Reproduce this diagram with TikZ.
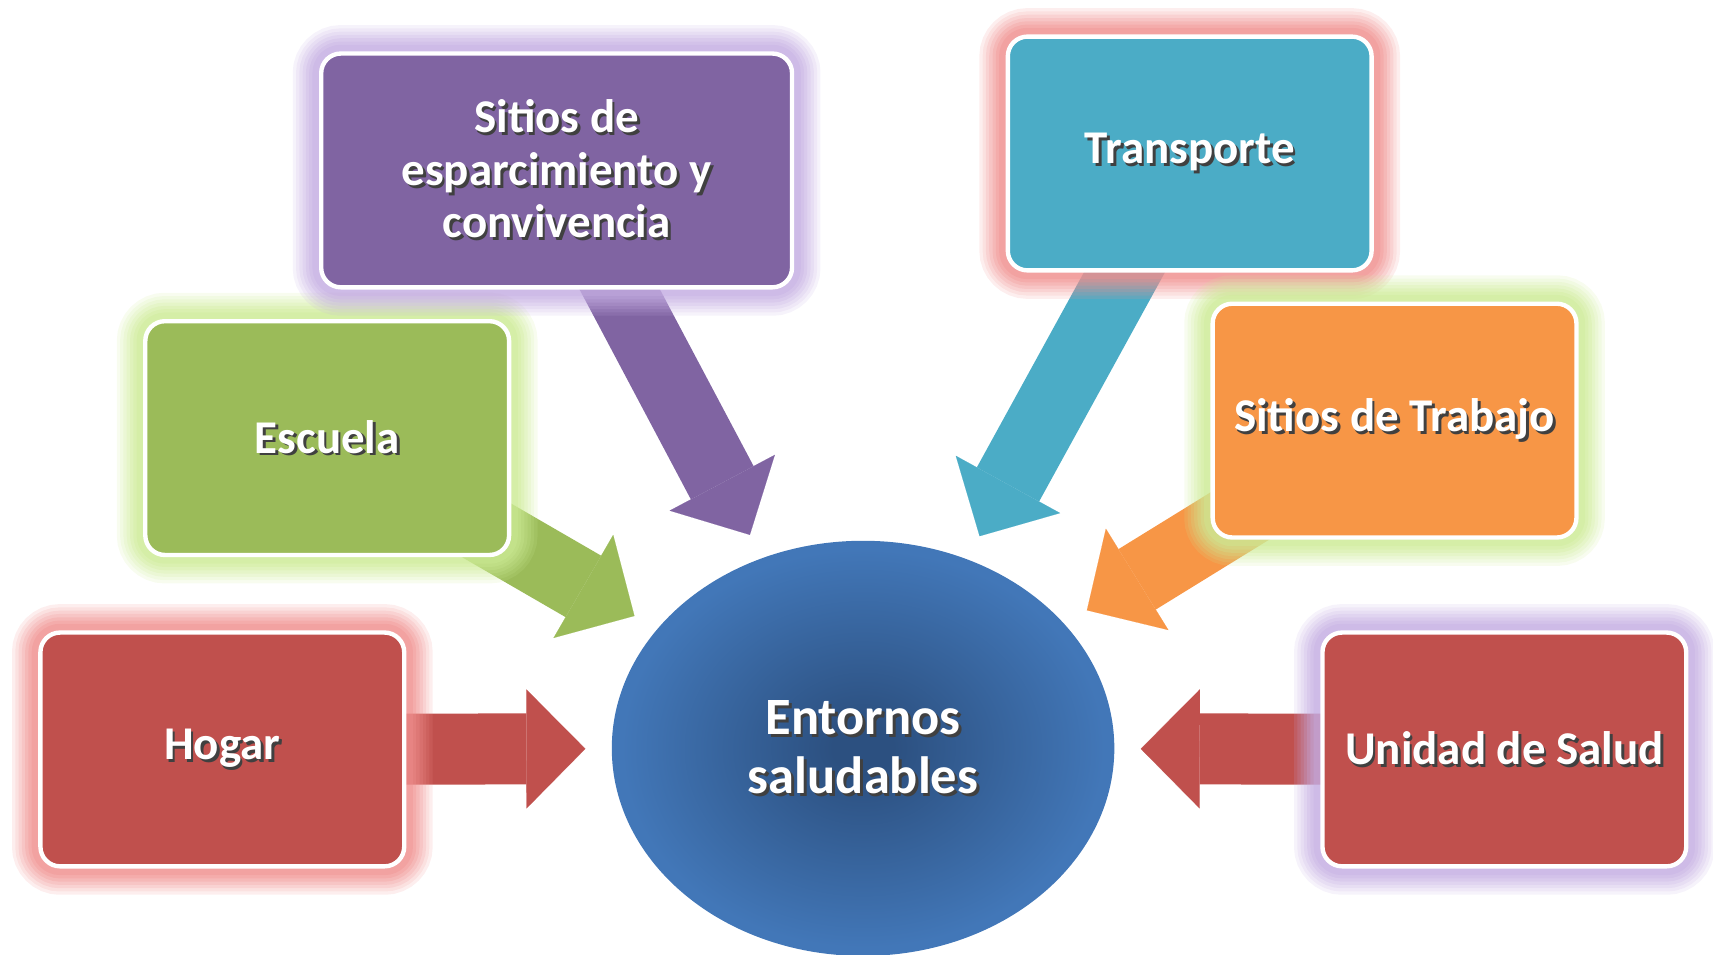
\documentclass[tikz,border=0pt]{standalone}
\usepackage{fontspec}
\setmainfont{Carlito}
\usetikzlibrary{shapes.geometric,arrows.meta,backgrounds}
\definecolor{boxred}{HTML}{C0504D}
\definecolor{boxgreen}{HTML}{9BBB59}
\definecolor{boxpurple}{HTML}{8064A2}
\definecolor{boxteal}{HTML}{4BACC6}
\definecolor{boxorange}{HTML}{F79646}
\definecolor{glowpink}{HTML}{F0908F}
\definecolor{glowgreen}{HTML}{CDEB96}
\definecolor{glowlilac}{HTML}{C4ADE2}
\definecolor{entblue}{HTML}{4277B8}
\definecolor{entdark}{HTML}{2C5080}
\definecolor{txtshadow}{HTML}{404040}
\pgfdeclareradialshading{entshade}{\pgfpoint{0bp}{0bp}}{color(0bp)=(entdark); color(3bp)=(entdark); color(24bp)=(entblue); color(50bp)=(entblue)}
\newcommand{\shd}[1]{\leavevmode\rlap{\kern2.5pt\raisebox{-2.5pt}{\color{txtshadow}#1}}#1}
\tikzset{
  box/.style={rectangle, rounded corners=18pt, draw=white, line width=4pt, fill=#1,
    minimum width=333pt, minimum height=214pt, text=white, align=center,
    font=\bfseries\fontsize{43}{48}\selectfont},
  glow/.style={preaction={draw=#1, line width=52pt, opacity=0.15},
    preaction={draw=#1, line width=46pt, opacity=0.15},
    preaction={draw=#1, line width=40pt, opacity=0.18},
    preaction={draw=#1, line width=34pt, opacity=0.2},
    preaction={draw=#1, line width=28pt, opacity=0.25},
    preaction={draw=#1, line width=22pt, opacity=0.3},
    preaction={draw=#1, line width=16pt, opacity=0.35}},
  bigarrow/.style={draw=#1, line width=65pt,
    -{Triangle[length=54pt 0 0, width=109pt 0 0, line width=0.1pt 0 0]}, shorten >=24pt}
}
\begin{document}
\begin{tikzpicture}[x=1pt, y=-1pt]
    \useasboundingbox (0,0) rectangle (1568,874);
    % Center ellipse
    \node[ellipse, minimum width=460pt, minimum height=380pt, inner sep=0pt, shade, shading=entshade,
      text=white, align=center, font=\bfseries\fontsize{48}{54}\selectfont]
      (ent) at (790,685) {\shd{Entornos}\\\shd{saludables}};

    % Boxes around it
    \node[box=boxred, glow=glowpink] (hogar) at (203.5,686) {\shd{Hogar}};
    \node[box=boxgreen, glow=glowgreen] (escuela) at (299.5,401) {\shd{Escuela}};
    \node[box=boxpurple, glow=glowlilac, minimum width=431pt] (espar) at (509.5,156)
      {\shd{Sitios de}\\\shd{esparcimiento y}\\\shd{convivencia}};
    \node[box=boxteal, glow=glowpink] (transp) at (1089,140.5) {\shd{Transporte}};
    \node[box=boxorange, glow=glowgreen] (trabajo) at (1276.5,385) {\shd{Sitios de Trabajo}};
    \node[box=boxred, glow=glowlilac] (salud) at (1377,686) {\shd{Unidad de Salud}};

    % Arrows behind the boxes
    \begin{pgfonlayer}{background}
    \draw[bigarrow=boxred] (hogar.center) -- (ent);
    \draw[bigarrow=boxgreen] (escuela.center) -- (ent);
    \draw[bigarrow=boxpurple] (espar.center) -- (ent);
    \draw[bigarrow=boxteal] (transp.center) -- (ent);
    \draw[bigarrow=boxorange] (trabajo.center) -- (ent);
    \draw[bigarrow=boxred] (salud.center) -- (ent);
    \end{pgfonlayer}
\end{tikzpicture}
\end{document}
